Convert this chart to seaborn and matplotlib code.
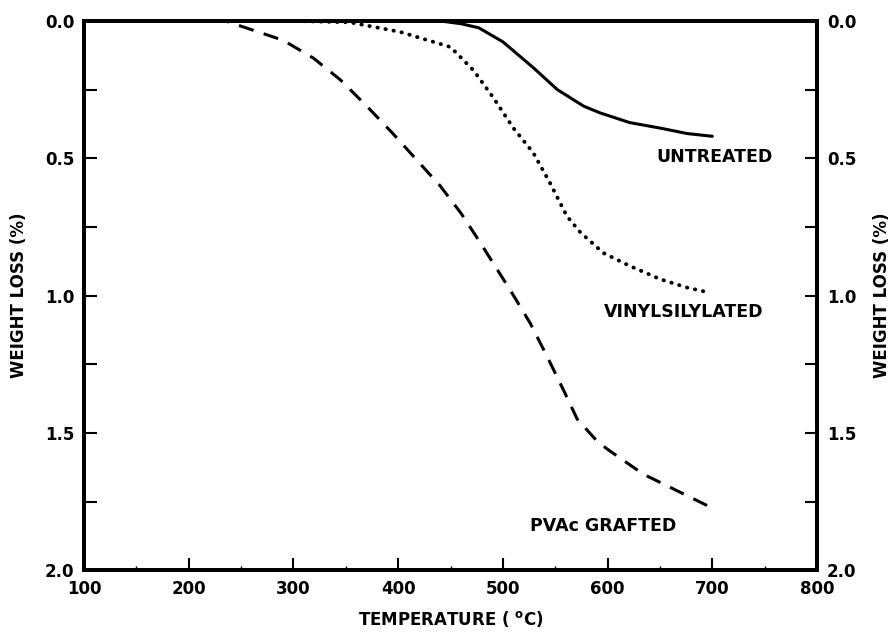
import numpy as np
import pandas as pd
import matplotlib
matplotlib.use('Agg')
import matplotlib.pyplot as plt
from matplotlib.ticker import MultipleLocator, FormatStrFormatter
import seaborn as sns

# values (temperature in C, weight loss in %)
untreated_t = [100, 300, 440, 460, 477, 500, 529, 552, 577, 593, 621, 650, 676, 700]
untreated_w = [0.0, 0.0, 0.0, 0.01, 0.025, 0.076, 0.17, 0.25, 0.31, 0.335, 0.37, 0.39, 0.41, 0.42]

vinyl_t = [100, 300, 354, 402, 450, 472, 491, 510, 529, 545, 561, 574, 596, 620, 650, 675, 698]
vinyl_w = [0.0, 0.0, 0.005, 0.04, 0.095, 0.18, 0.28, 0.39, 0.48, 0.59, 0.71, 0.77, 0.845, 0.89, 0.94, 0.97, 0.99]

pvac_t = [100, 200, 235, 290, 319, 345, 370, 395, 421, 440, 460, 478, 507, 526, 542, 558, 571,
          590, 600, 634, 666, 698]
pvac_w = [0.0, 0.0, 0.0, 0.07, 0.135, 0.215, 0.31, 0.41, 0.52, 0.6, 0.7, 0.805, 0.98, 1.10, 1.22,
          1.345, 1.45, 1.53, 1.56, 1.65, 1.71, 1.77]

labels = ['UNTREATED', 'VINYLSILYLATED', 'PVAc GRAFTED']
label_pos = [(647, 0.495), (596, 1.06), (526, 1.84)]

sns.set_style('ticks')
plt.rcParams['font.family'] = ['DejaVu Sans']
plt.rcParams.update({'text.color': 'black', 'axes.labelcolor': 'black',
                     'xtick.color': 'black', 'ytick.color': 'black',
                     'axes.edgecolor': 'black'})
FS = 12

fig = plt.figure(figsize=(8.93, 6.35), dpi=100)
ax = fig.add_axes([0.094, 0.102, 0.821, 0.865])

df_u = pd.DataFrame({'T': untreated_t, 'W': untreated_w})
df_v = pd.DataFrame({'T': vinyl_t, 'W': vinyl_w})
df_p = pd.DataFrame({'T': pvac_t, 'W': pvac_w})

sns.lineplot(data=df_u, x='T', y='W', ax=ax, color='black', lw=2.2, sort=False)
sns.lineplot(data=df_v, x='T', y='W', ax=ax, color='black', lw=2.8, sort=False,
             linestyle=(0, (0.1, 2.0)), dash_capstyle='round')
sns.lineplot(data=df_p, x='T', y='W', ax=ax, color='black', lw=2.2, sort=False,
             linestyle=(0, (5, 3.5)))

for txt, (x, y) in zip(labels, label_pos):
    ax.text(x, y, txt, fontsize=12.5, fontweight='bold', ha='left', va='center')

ax.set_xlim(100, 800)
ax.set_ylim(2.0, 0.0)
ax.xaxis.set_major_locator(MultipleLocator(100))
ax.xaxis.set_minor_locator(MultipleLocator(50))
ax.yaxis.set_major_locator(MultipleLocator(0.5))
ax.yaxis.set_minor_locator(MultipleLocator(0.25))
ax.yaxis.set_major_formatter(FormatStrFormatter('%.1f'))

ax.tick_params(axis='both', which='major', direction='in', length=9, width=1.5,
               labelsize=FS, pad=7)
ax.tick_params(axis='y', which='minor', direction='in', length=9, width=1.5)
ax.tick_params(axis='x', which='minor', direction='in', length=3, width=1)
for lbl in ax.get_xticklabels() + ax.get_yticklabels():
    lbl.set_fontweight('bold')

for s in ax.spines.values():
    s.set_visible(True)
    s.set_linewidth(2.8)

ax.set_xlabel('TEMPERATURE ( $^{\\mathregular{o}}$C)', fontsize=FS, fontweight='bold', labelpad=8)
ax.set_ylabel('WEIGHT LOSS (%)', fontsize=FS, fontweight='bold', labelpad=12)

ax2 = ax.twinx()
ax2.set_ylim(2.0, 0.0)
ax2.yaxis.set_major_locator(MultipleLocator(0.5))
ax2.yaxis.set_minor_locator(MultipleLocator(0.25))
ax2.yaxis.set_major_formatter(FormatStrFormatter('%.1f'))
ax2.tick_params(axis='y', which='both', direction='in', length=9, width=1.5, labelsize=FS, pad=7)
for lbl in ax2.get_yticklabels():
    lbl.set_fontweight('bold')
ax2.set_ylabel('WEIGHT LOSS (%)', fontsize=FS, fontweight='bold', labelpad=12)
for s in ax2.spines.values():
    s.set_linewidth(2.8)

fig.savefig('out.png', dpi=100)
plt.close(fig)
